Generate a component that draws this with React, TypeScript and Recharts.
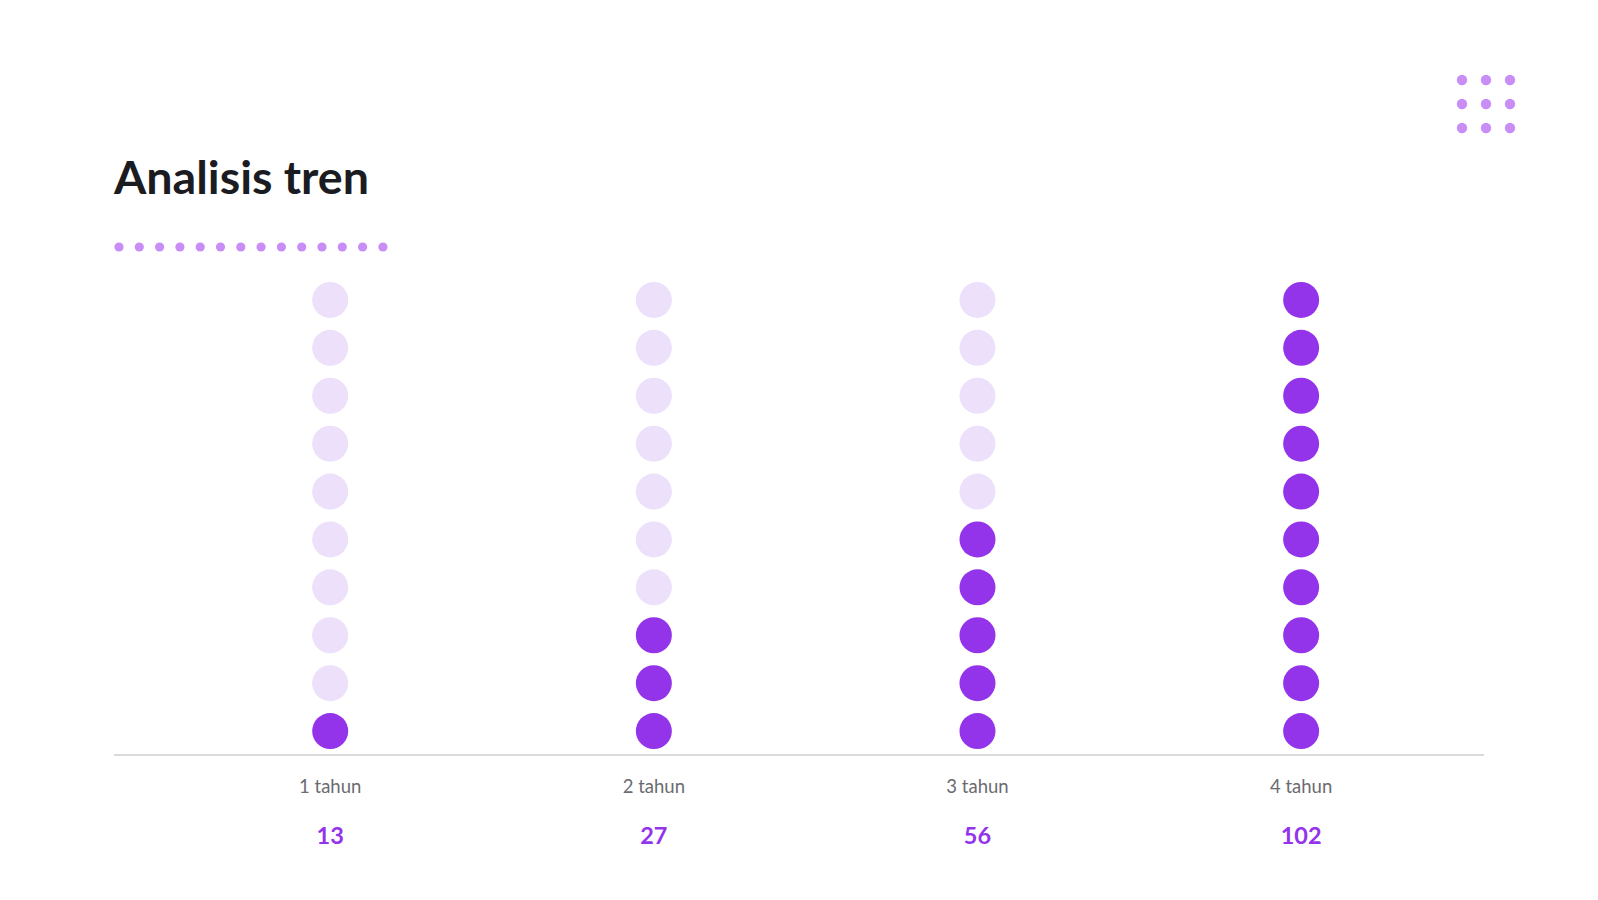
import { Scatter, ScatterChart, XAxis, YAxis, ZAxis } from "recharts";

const categories = ["1 tahun", "2 tahun", "3 tahun", "4 tahun"];
const totals = [13, 27, 56, 102];
// filled dots per column (out of 10)
const filledDots = [1, 3, 5, 10];
const rows = [1, 2, 3, 4, 5, 6, 7, 8, 9, 10];

const DARK = "#9333ea";
const LIGHT = "#ede0fb";
const DECO = "#c98ef6";
const FONT = "Lato, 'Noto Sans', sans-serif";

type Pt = { x: number; y: number };

const filledPts: Pt[] = [];
const emptyPts: Pt[] = [];
categories.forEach((_, i) => {
  rows.forEach((r) => {
    (r <= filledDots[i] ? filledPts : emptyPts).push({ x: i + 1, y: r });
  });
});

const dot = (fill: string) => (props: any) => (
  <circle cx={props.cx} cy={props.cy} r={18} fill={fill} />
);

function AxisTick(props: any) {
  const { x, y, payload } = props;
  const i = payload.value - 1;
  return (
    <g>
      <text x={x} y={y + 31} textAnchor="middle" dominantBaseline="central" fill="#6b6b70" fontSize={18.5} fontFamily={FONT}>
        {categories[i]}
      </text>
      <text x={x} y={y + 80} textAnchor="middle" dominantBaseline="central" fill={DARK} fontSize={23.5} fontWeight={700} fontFamily={FONT}>
        {totals[i]}
      </text>
    </g>
  );
}

export default function App() {
  const lineDots = Array.from({ length: 14 }, (_, i) => i);
  const grid = [0, 1, 2];
  return (
    <div style={{ position: "absolute", left: 0, top: 0, width: 1598, height: 900, background: "#fff", fontFamily: FONT }}>
      <div style={{ position: "absolute", left: 114, top: 146, fontSize: 46.6, fontWeight: 700, color: "#1b1b22", lineHeight: "60px" }}>
        Analisis tren
      </div>
      <svg width={1598} height={900} style={{ position: "absolute", left: 0, top: 0 }}>
        {lineDots.map((i) => (
          <circle key={i} cx={119 + i * 20.3} cy={247} r={4.6} fill={DECO} />
        ))}
        {grid.map((r) =>
          grid.map((c) => (
            <circle key={`${r}-${c}`} cx={1462 + c * 24} cy={80 + r * 24} r={5.2} fill={DECO} />
          ))
        )}
      </svg>
      <div style={{ position: "absolute", left: 0, top: 0 }}>
        <ScatterChart width={1598} height={900} margin={{ top: 276, right: 114, bottom: 0, left: 114 }}>
          <XAxis
            type="number"
            dataKey="x"
            domain={[0.332, 4.565]}
            ticks={[1, 2, 3, 4]}
            allowDataOverflow
            axisLine={{ stroke: "#dadada", strokeWidth: 2 }}
            tickLine={false}
            tickSize={0}
            tickMargin={0}
            tick={<AxisTick />}
            height={145}
          />
          <YAxis type="number" dataKey="y" domain={[0.5, 10.5]} hide />
          <ZAxis range={[1000, 1000]} />
          <Scatter data={emptyPts} shape={dot(LIGHT)} isAnimationActive={false} />
          <Scatter data={filledPts} shape={dot(DARK)} isAnimationActive={false} />
        </ScatterChart>
      </div>
    </div>
  );
}
